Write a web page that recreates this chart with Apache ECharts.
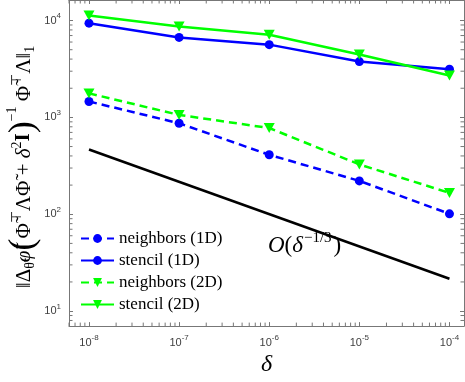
<!DOCTYPE html>
<html>
<head>
<meta charset="utf-8">
<script src="https://cdn.jsdelivr.net/npm/echarts@6/dist/echarts.min.js"></script>
<style>
  html, body { margin: 0; padding: 0; background: #fff; }
  #chart { width: 465px; height: 382px; }
</style>
</head>
<body>
<div id="chart"></div>
<script>
// data
const delta = [1e-8, 1e-7, 1e-6, 1e-5, 1e-4];
const neighbors1D = [1460, 870, 411, 221, 101];
const stencil1D = [9400, 6700, 5640, 3770, 3150];
const neighbors2D = [1770, 1060, 777, 327, 166];
const stencil2D = [11300, 8700, 7130, 4460, 2710];
// O(delta^-1/3) guide line
const refDelta = [1e-8, 1e-4];
const refValue = [466, 21.6];
// tick labels (exponents of 10)
const xTickExp = [-8, -7, -6, -5, -4];
const yTickExp = [1, 2, 3, 4];
const legendNames = ["neighbors (1D)", "stencil (1D)", "neighbors (2D)", "stencil (2D)"];

const X_MIN = 6e-9, X_MAX = 1.45e-4;
const Y_MIN = 7, Y_MAX = 16300;
const AXIS_COLOR = "#777";
const LABEL_COLOR = "#404040";

// log minor ticks (2..9 in every decade), drawn on all four sides
const minorTicks = [];
[1e-9, 1e-8, 1e-7, 1e-6, 1e-5].forEach((d) => {
  for (let k = 2; k <= 9; k++) {
    const v = k * d;
    if (v > X_MIN && v < X_MAX) minorTicks.push([v, Y_MIN, 0]);
  }
});
[1, 10, 100, 1000, 10000].forEach((d) => {
  for (let k = 2; k <= 9; k++) {
    const v = k * d;
    if (v > Y_MIN && v < Y_MAX) minorTicks.push([X_MIN, v, 1]);
  }
});

function pairs(xs, ys) {
  return xs.map((x, i) => [x, ys[i]]);
}

function expLabel(list) {
  return function (value) {
    const e = Math.round(Math.log10(value));
    if (list.indexOf(e) < 0) return "";
    return "{b|10}{s|" + e + "}";
  };
}

const tickRich = {
  b: { fontSize: 11, fontFamily: "Liberation Sans", color: LABEL_COLOR },
  s: { fontSize: 8, fontFamily: "Liberation Sans", color: LABEL_COLOR, padding: [0, 0, 9, 0] },
};

function renderMinor(params, api) {
  const v = api.value(0);
  const w = api.value(1);
  const dir = api.value(2);
  const L = 3.5;
  const st = { stroke: AXIS_COLOR, lineWidth: 1 };
  if (dir === 0) {
    const a = api.coord([v, Y_MIN]);
    const b = api.coord([v, Y_MAX]);
    return {
      type: "group",
      children: [
        { type: "line", shape: { x1: a[0], y1: a[1], x2: a[0], y2: a[1] - L }, style: st },
        { type: "line", shape: { x1: b[0], y1: b[1], x2: b[0], y2: b[1] + L }, style: st },
      ],
    };
  }
  const a = api.coord([X_MIN, w]);
  const b = api.coord([X_MAX, w]);
  return {
    type: "group",
    children: [
      { type: "line", shape: { x1: a[0], y1: a[1], x2: a[0] + L, y2: a[1] }, style: st },
      { type: "line", shape: { x1: b[0], y1: b[1], x2: b[0] - L, y2: b[1] }, style: st },
    ],
  };
}

function logAxis(extra) {
  return Object.assign(
    {
      type: "log",
      logBase: 10,
      axisLine: { show: true, lineStyle: { color: AXIS_COLOR, width: 1 } },
      axisTick: { show: true, inside: true, length: 4, lineStyle: { color: AXIS_COLOR } },
      splitLine: { show: false },
      minorTick: { show: false },
    },
    extra
  );
}

const legendText = { fontFamily: "Liberation Serif", fontSize: 17, color: "#000" };

const chart = echarts.init(document.getElementById("chart"));

const option = {
  animation: false,
  backgroundColor: "#fff",
  grid: { left: 69, right: 1, top: 0, bottom: 53, containLabel: false },
  xAxis: [
    logAxis({
      min: X_MIN,
      max: X_MAX,
      position: "bottom",
      axisLabel: {
        margin: 8,
        formatter: expLabel(xTickExp),
        rich: tickRich,
        showMinLabel: false,
        showMaxLabel: false,
      },
      name: "δ",
      nameLocation: "middle",
      nameGap: 24,
      nameTextStyle: { fontFamily: "Liberation Serif", fontStyle: "italic", fontSize: 24, color: "#000" },
    }),
    logAxis({ min: X_MIN, max: X_MAX, position: "top", axisLabel: { show: false } }),
  ],
  yAxis: [
    logAxis({
      min: Y_MIN,
      max: Y_MAX,
      position: "left",
      axisLabel: {
        margin: 8,
        formatter: expLabel(yTickExp),
        rich: tickRich,
        showMinLabel: false,
        showMaxLabel: false,
      },
    }),
    logAxis({ min: Y_MIN, max: Y_MAX, position: "right", axisLabel: { show: false } }),
  ],
  legend: {
    left: 80,
    top: 230,
    padding: 0,
    orient: "vertical",
    itemWidth: 33,
    itemHeight: 11,
    itemGap: 5,
    formatter: "{t|{name}}",
    textStyle: Object.assign({ rich: { t: legendText } }, legendText),
    data: legendNames.map((n) => ({ name: n, textStyle: legendText })),
  },
  series: [
    {
      type: "custom",
      name: "minor",
      silent: true,
      renderItem: renderMinor,
      data: minorTicks,
      z: 1,
    },
    {
      name: legendNames[0],
      type: "line",
      data: pairs(delta, neighbors1D),
      symbol: "circle",
      symbolSize: 9,
      color: "#0000ff",
      lineStyle: { width: 2.5, type: [8, 5] },
    },
    {
      name: legendNames[1],
      type: "line",
      data: pairs(delta, stencil1D),
      symbol: "circle",
      symbolSize: 9,
      color: "#0000ff",
      lineStyle: { width: 2.5 },
    },
    {
      name: legendNames[2],
      type: "line",
      data: pairs(delta, neighbors2D),
      symbol: "triangle",
      symbolRotate: 180,
      symbolSize: [11, 10],
      color: "#00ff00",
      lineStyle: { width: 2.5, type: [8, 5] },
    },
    {
      name: legendNames[3],
      type: "line",
      data: pairs(delta, stencil2D),
      symbol: "triangle",
      symbolRotate: 180,
      symbolSize: [11, 10],
      color: "#00ff00",
      lineStyle: { width: 2.5 },
    },
    {
      name: "rate",
      type: "line",
      data: pairs(refDelta, refValue),
      symbol: "none",
      color: "#000",
      lineStyle: { width: 2.5 },
    },
  ],
  graphic: [
    {
      // y-axis title
      type: "text",
      x: 24,
      y: 167,
      rotation: Math.PI / 2,
      style: {
        text:
          "{n|‖Δ}{sub|θ̃}{i|φ̃}{p|(}{n|Φ̃}{sup|⊤}{n|ΛΦ̃ + }{i|δ}{sup|2}{b|I}{p|)}{sup2|−1}{n| Φ̃}{sup|⊤}{n|Λ‖}{sub|1}",
        align: "center",
        verticalAlign: "middle",
        rich: {
          n: { fontFamily: "Liberation Serif", fontSize: 21, fill: "#000" },
          i: { fontFamily: "Liberation Serif", fontStyle: "italic", fontSize: 21, fill: "#000" },
          b: { fontFamily: "Liberation Serif", fontWeight: "bold", fontSize: 21, fill: "#000" },
          p: { fontFamily: "Liberation Serif", fontSize: 36, fill: "#000" },
          sub: { fontFamily: "Liberation Serif", fontSize: 14, fill: "#000", padding: [12, 0, 0, 0] },
          sup: { fontFamily: "Liberation Serif", fontSize: 14, fill: "#000", padding: [0, 0, 14, 0] },
          sup2: { fontFamily: "Liberation Serif", fontSize: 14, fill: "#000", padding: [0, 0, 24, 0] },
        },
      },
    },
    {
      // rate annotation
      type: "text",
      x: 268,
      y: 246,
      style: {
        text: "{o|O}{n|(}{i|δ}{s|−1/3}{n|)}",
        align: "left",
        verticalAlign: "middle",
        rich: {
          o: { fontFamily: "Liberation Serif", fontStyle: "italic", fontSize: 23, fill: "#000" },
          n: { fontFamily: "Liberation Serif", fontSize: 23, fill: "#000" },
          i: { fontFamily: "Liberation Serif", fontStyle: "italic", fontSize: 23, fill: "#000" },
          s: { fontFamily: "Liberation Serif", fontSize: 15, fill: "#000", padding: [0, 2, 16, 1] },
        },
      },
    },
  ],
};

chart.setOption(option);
</script>
</body>
</html>
